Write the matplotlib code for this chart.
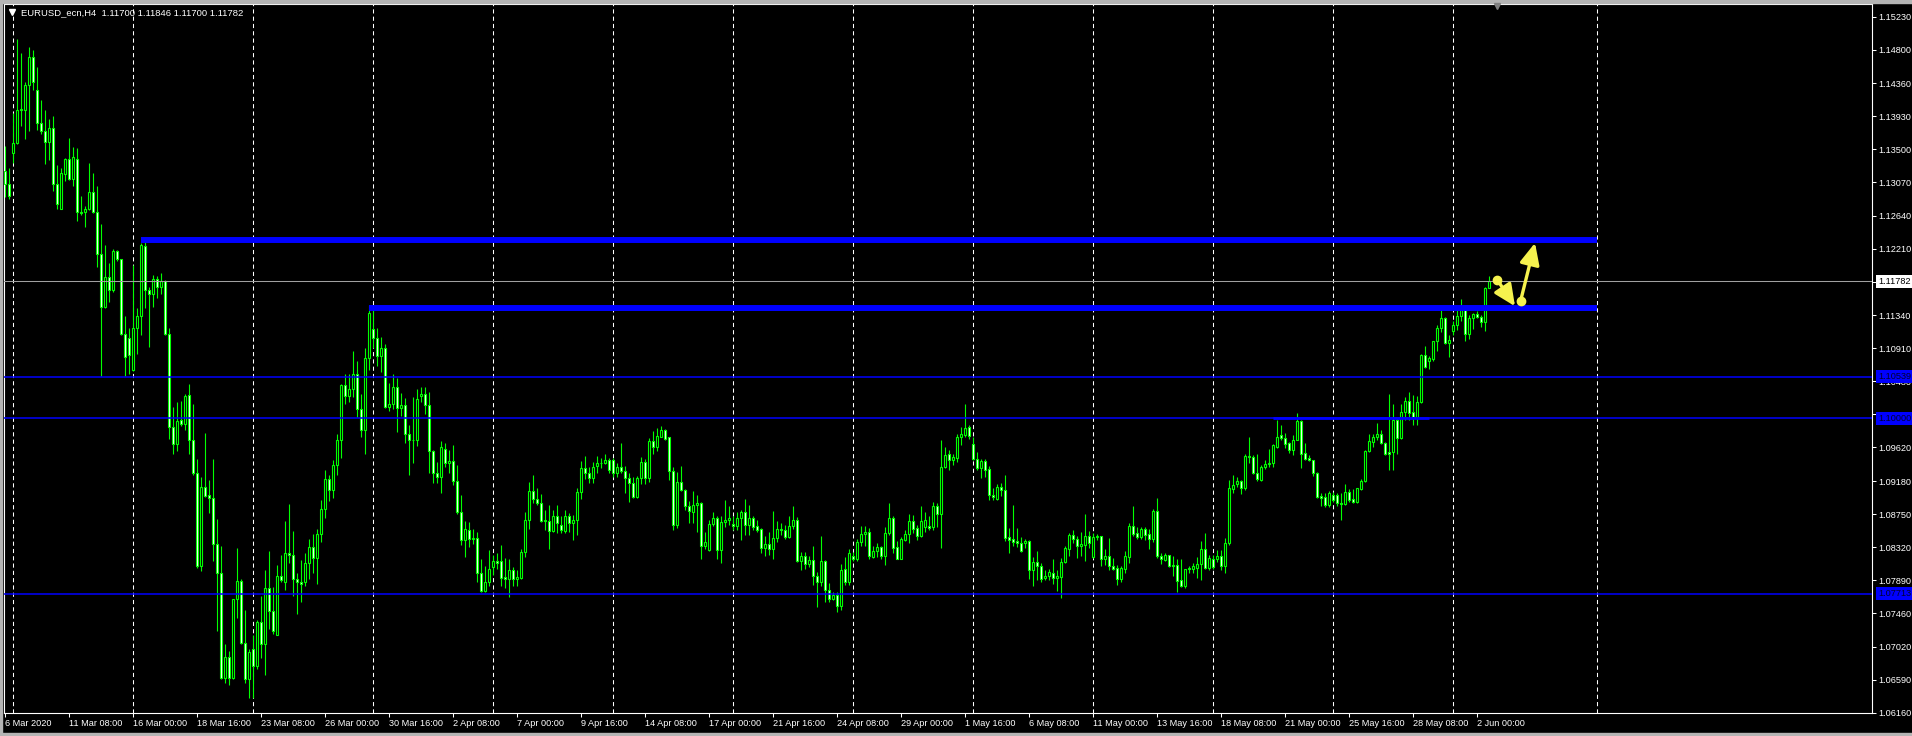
import numpy as np
import pandas as pd
import matplotlib
matplotlib.use('Agg')
import matplotlib.pyplot as plt
from matplotlib.patches import Rectangle, FancyArrowPatch
from matplotlib.lines import Line2D
from matplotlib.transforms import blended_transform_factory

plt.rcParams['font.family'] = ['Liberation Sans', 'DejaVu Sans']

# ---- data (prices in pips, 1 pip = 0.0001) ----
symbol = 'EURUSD_ecn,H4'
first_bar = '2020-03-06 16:00'

opens = [
    11322, 11305, 11346, 11358, 11401, 11402, 11434, 11470, 11428, 11384,
    11374, 11360, 11378, 11305, 11273, 11318, 11337, 11312, 11338, 11269,
    11268, 11272, 11295, 11268, 11214, 11145, 11184, 11167, 11218, 11207,
    11110, 11104, 11063, 11117, 11133, 11224, 11167, 11162, 11181, 11171,
    11179, 11110, 10988, 10966, 10997, 10992, 11030, 10971, 10929, 10808,
    10911, 10900, 10896, 10836, 10798, 10662, 10689, 10662, 10764, 10788,
    10707, 10660, 10700, 10677, 10735, 10706, 10779, 10749, 10718, 10795,
    10787, 10824, 10822, 10790, 10787, 10786, 10811, 10832, 10818, 10849,
    10882, 10921, 10906, 10939, 10972, 11043, 11029, 11038, 11058, 11012,
    10985, 11078, 11116, 11105, 11081, 11091, 11015, 11019, 11040, 11013,
    11017, 10979, 10972, 10971, 11029, 11031, 11017, 10957, 10929, 10924,
    10960, 10942, 10944, 10918, 10878, 10841, 10854, 10842, 10844, 10798,
    10775, 10787, 10806, 10814, 10814, 10793, 10791, 10802, 10791, 10792,
    10826, 10867, 10905, 10895, 10889, 10866, 10866, 10853, 10872, 10861,
    10853, 10872, 10864, 10868, 10904, 10935, 10929, 10922, 10938, 10941,
    10941, 10946, 10946, 10929, 10936, 10931, 10922, 10915, 10897, 10922,
    10943, 10922, 10970, 10963, 10976, 10985, 10975, 10931, 10861, 10917,
    10906, 10886, 10878, 10887, 10890, 10833, 10828, 10862, 10870, 10828,
    10865, 10867, 10862, 10860, 10870, 10878, 10861, 10870, 10859, 10856,
    10831, 10836, 10829, 10844, 10856, 10854, 10845, 10859, 10868, 10814,
    10821, 10810, 10815, 10795, 10787, 10814, 10776, 10765, 10770, 10755,
    10803, 10787, 10821, 10817, 10839, 10849, 10852, 10819, 10827, 10832,
    10820, 10851, 10870, 10832, 10817, 10841, 10849, 10866, 10857, 10847,
    10858, 10859, 10858, 10886, 10875, 10936, 10953, 10945, 10948, 10975,
    10978, 10988, 10966, 10947, 10935, 10944, 10934, 10900, 10895, 10911,
    10906, 10845, 10842, 10840, 10837, 10837, 10840, 10802, 10813, 10808,
    10792, 10794, 10798, 10792, 10793, 10813, 10830, 10848, 10842, 10834,
    10835, 10846, 10819, 10845, 10846, 10816, 10820, 10807, 10805, 10791,
    10804, 10819, 10860, 10850, 10845, 10856, 10849, 10842, 10879, 10821,
    10815, 10822, 10809, 10809, 10789, 10781, 10805, 10804, 10805, 10810,
    10829, 10805, 10817, 10816, 10820, 10808, 10837, 10908, 10914, 10918,
    10909, 10951, 10950, 10929, 10920, 10937, 10940, 10941, 10963, 10978,
    10974, 10968, 10959, 10971, 10996, 10955, 10948, 10946, 10928, 10898,
    10897, 10887, 10900, 10900, 10890, 10888, 10904, 10895, 10891, 10908,
    10918, 10957, 10969, 10975, 10979, 10968, 10956, 10956, 10997, 10974,
    11008, 11022, 11008, 11000, 11021, 11082, 11075, 11077, 11100, 11118,
    11130, 11098, 11113, 11121, 11133, 11141, 11110, 11130, 11136, 11132,
    11125, 11170.0,
]
highs = [
    11354, 11326, 11397, 11494, 11476, 11438, 11483, 11479, 11458, 11415,
    11401, 11390, 11394, 11330, 11326, 11339, 11365, 11353, 11352, 11289,
    11276, 11333, 11319, 11302, 11253, 11226, 11202, 11221, 11219, 11208,
    11133, 11117, 11200, 11143, 11228, 11236, 11171, 11187, 11185, 11189,
    11180, 11118, 11015, 11021, 11022, 11032, 11045, 11018, 10947, 10923,
    10981, 10920, 10947, 10869, 10834, 10706, 10697, 10765, 10831, 10790,
    10750, 10700, 10717, 10737, 10768, 10802, 10827, 10780, 10809, 10822,
    10866, 10888, 10853, 10798, 10815, 10824, 10843, 10849, 10856, 10894,
    10933, 10926, 10945, 10979, 11044, 11058, 11058, 11087, 11075, 11031,
    11091, 11147, 11143, 11118, 11106, 11096, 11046, 11057, 11052, 11033,
    11026, 10991, 11028, 11038, 11040, 11040, 11034, 10959, 10943, 10970,
    10968, 10959, 10965, 10939, 10900, 10866, 10865, 10856, 10852, 10817,
    10808, 10828, 10822, 10824, 10835, 10818, 10817, 10806, 10802, 10830,
    10878, 10917, 10926, 10909, 10901, 10880, 10887, 10880, 10887, 10872,
    10880, 10876, 10874, 10909, 10944, 10951, 10936, 10943, 10951, 10948,
    10953, 10948, 10948, 10941, 10968, 10938, 10928, 10924, 10925, 10949,
    10947, 10974, 10983, 10987, 10990, 10986, 10976, 10937, 10930, 10938,
    10908, 10892, 10905, 10900, 10891, 10852, 10867, 10878, 10873, 10872,
    10893, 10885, 10872, 10878, 10881, 10895, 10887, 10872, 10867, 10857,
    10847, 10852, 10879, 10866, 10863, 10861, 10873, 10885, 10871, 10826,
    10826, 10821, 10834, 10800, 10847, 10815, 10785, 10774, 10774, 10810,
    10819, 10830, 10826, 10843, 10859, 10860, 10857, 10834, 10837, 10834,
    10858, 10889, 10872, 10840, 10845, 10854, 10875, 10874, 10861, 10886,
    10878, 10872, 10891, 10889, 10972, 10963, 10958, 10953, 10980, 10989,
    11019, 10991, 10975, 10956, 10947, 10947, 10938, 10909, 10914, 10916,
    10926, 10857, 10887, 10857, 10845, 10843, 10841, 10819, 10827, 10812,
    10802, 10804, 10816, 10802, 10818, 10834, 10851, 10854, 10847, 10852,
    10875, 10853, 10851, 10849, 10847, 10829, 10844, 10818, 10809, 10808,
    10827, 10864, 10885, 10858, 10858, 10858, 10856, 10882, 10896, 10825,
    10825, 10822, 10820, 10817, 10816, 10804, 10808, 10811, 10819, 10840,
    10851, 10822, 10822, 10828, 10828, 10844, 10919, 10926, 10924, 10920,
    10953, 10976, 10952, 10953, 10939, 10946, 10960, 10966, 10998, 10991,
    10981, 10969, 10978, 11007, 10997, 10968, 10952, 10946, 10930, 10903,
    10903, 10905, 10904, 10903, 10903, 10914, 10908, 10908, 10909, 10921,
    10958, 10980, 10979, 10994, 10985, 10969, 11031, 11018, 11000, 11018,
    11027, 11034, 11030, 11029, 11083, 11094, 11081, 11101, 11121, 11146,
    11132, 11109, 11127, 11141, 11155, 11143, 11134, 11137, 11139, 11134,
    11171, 11184.6,
]
lows = [
    11288, 11286, 11333, 11357, 11380, 11364, 11374, 11427, 11375, 11370,
    11331, 11336, 11296, 11273, 11272, 11309, 11310, 11302, 11257, 11265,
    11249, 11271, 11267, 11197, 11055, 11143, 11151, 11164, 11205, 11109,
    11055, 11058, 11062, 11083, 11109, 11143, 11093, 11145, 11156, 11162,
    11109, 10973, 10954, 10957, 10990, 10985, 10954, 10926, 10805, 10801,
    10897, 10877, 10814, 10723, 10660, 10655, 10652, 10660, 10740, 10706,
    10655, 10636, 10635, 10673, 10688, 10665, 10725, 10719, 10717, 10787,
    10776, 10811, 10768, 10745, 10760, 10782, 10791, 10799, 10784, 10839,
    10870, 10892, 10896, 10926, 10948, 11018, 11021, 11028, 11001, 10975,
    10953, 11063, 11092, 11068, 11060, 11013, 11009, 11012, 10982, 11003,
    10968, 10926, 10942, 10964, 11021, 11006, 10929, 10915, 10915, 10902,
    10937, 10929, 10913, 10875, 10835, 10819, 10832, 10836, 10786, 10774,
    10773, 10782, 10796, 10804, 10781, 10779, 10767, 10781, 10782, 10790,
    10819, 10856, 10889, 10887, 10865, 10854, 10829, 10852, 10850, 10851,
    10851, 10852, 10841, 10848, 10895, 10921, 10915, 10915, 10928, 10935,
    10940, 10928, 10924, 10924, 10928, 10902, 10891, 10896, 10896, 10914,
    10914, 10917, 10954, 10957, 10975, 10972, 10919, 10855, 10857, 10905,
    10880, 10864, 10864, 10852, 10816, 10829, 10827, 10860, 10816, 10811,
    10858, 10861, 10854, 10854, 10841, 10848, 10848, 10854, 10852, 10825,
    10820, 10822, 10816, 10839, 10848, 10843, 10844, 10856, 10813, 10802,
    10804, 10806, 10783, 10754, 10782, 10761, 10761, 10763, 10747, 10750,
    10783, 10783, 10814, 10814, 10834, 10834, 10816, 10818, 10819, 10817,
    10809, 10848, 10824, 10816, 10816, 10840, 10838, 10851, 10841, 10845,
    10852, 10854, 10854, 10858, 10831, 10935, 10932, 10939, 10943, 10965,
    10976, 10973, 10946, 10933, 10922, 10924, 10893, 10894, 10893, 10898,
    10840, 10825, 10834, 10832, 10826, 10831, 10791, 10782, 10789, 10786,
    10789, 10789, 10784, 10775, 10766, 10811, 10821, 10837, 10818, 10820,
    10814, 10831, 10818, 10841, 10808, 10809, 10802, 10802, 10783, 10787,
    10799, 10811, 10847, 10843, 10842, 10841, 10830, 10839, 10818, 10810,
    10814, 10806, 10794, 10774, 10780, 10779, 10799, 10798, 10792, 10789,
    10803, 10802, 10804, 10813, 10802, 10799, 10835, 10902, 10911, 10901,
    10907, 10941, 10927, 10918, 10918, 10934, 10937, 10936, 10961, 10971,
    10961, 10955, 10952, 10971, 10935, 10946, 10944, 10925, 10896, 10885,
    10884, 10884, 10891, 10886, 10868, 10887, 10891, 10890, 10889, 10907,
    10917, 10956, 10963, 10971, 10966, 10952, 10932, 10932, 10954, 10973,
    10997, 10998, 10991, 10991, 11020, 11066, 11064, 11075, 11088, 11112,
    11097, 11080, 11108, 11115, 11127, 11100, 11103, 11116, 11130, 11119,
    11114, 11170.0,
]
closes = [
    11305, 11289, 11358, 11401, 11403, 11434, 11470, 11438, 11384, 11374,
    11360, 11378, 11305, 11279, 11319, 11337, 11312, 11340, 11268, 11267,
    11272, 11295, 11268, 11214, 11145, 11184, 11167, 11218, 11207, 11110,
    11080, 11082, 11117, 11133, 11226, 11167, 11162, 11181, 11171, 11179,
    11110, 10988, 10966, 10996, 10992, 11029, 10971, 10929, 10808, 10911,
    10899, 10896, 10836, 10798, 10662, 10689, 10662, 10764, 10788, 10707,
    10660, 10696, 10677, 10735, 10706, 10779, 10749, 10723, 10795, 10789,
    10824, 10822, 10790, 10786, 10784, 10811, 10832, 10818, 10849, 10882,
    10921, 10906, 10939, 10972, 11043, 11029, 11038, 11058, 11012, 10985,
    11078, 11137, 11105, 11081, 11091, 11015, 11019, 11040, 11013, 11017,
    10979, 10972, 10971, 11025, 11031, 11017, 10957, 10929, 10924, 10962,
    10942, 10944, 10918, 10878, 10841, 10856, 10842, 10844, 10798, 10775,
    10787, 10804, 10814, 10812, 10792, 10791, 10802, 10791, 10793, 10826,
    10867, 10905, 10895, 10889, 10866, 10867, 10853, 10872, 10863, 10855,
    10872, 10864, 10868, 10904, 10935, 10929, 10922, 10937, 10941, 10942,
    10946, 10932, 10929, 10936, 10931, 10922, 10915, 10897, 10922, 10943,
    10922, 10970, 10963, 10977, 10985, 10973, 10931, 10861, 10917, 10906,
    10885, 10879, 10887, 10890, 10833, 10839, 10862, 10870, 10828, 10865,
    10868, 10870, 10859, 10870, 10878, 10861, 10870, 10858, 10855, 10831,
    10836, 10829, 10844, 10856, 10854, 10845, 10859, 10868, 10814, 10821,
    10810, 10815, 10794, 10787, 10814, 10776, 10765, 10770, 10755, 10802,
    10787, 10824, 10817, 10839, 10849, 10852, 10821, 10827, 10832, 10820,
    10851, 10870, 10831, 10817, 10842, 10849, 10866, 10856, 10847, 10866,
    10868, 10857, 10886, 10875, 10937, 10952, 10945, 10949, 10976, 10980,
    10987, 10977, 10947, 10935, 10944, 10933, 10900, 10897, 10911, 10906,
    10844, 10841, 10839, 10837, 10827, 10840, 10802, 10813, 10808, 10791,
    10794, 10800, 10792, 10794, 10813, 10831, 10848, 10842, 10834, 10836,
    10846, 10838, 10845, 10846, 10816, 10820, 10807, 10804, 10791, 10805,
    10821, 10860, 10849, 10845, 10856, 10848, 10842, 10879, 10821, 10816,
    10822, 10808, 10808, 10788, 10781, 10804, 10803, 10807, 10810, 10829,
    10805, 10818, 10806, 10820, 10808, 10837, 10909, 10913, 10918, 10909,
    10951, 10949, 10928, 10921, 10937, 10940, 10942, 10965, 10976, 10974,
    10967, 10959, 10971, 10996, 10954, 10947, 10945, 10928, 10897, 10896,
    10887, 10902, 10893, 10889, 10888, 10904, 10893, 10891, 10909, 10918,
    10957, 10970, 10975, 10980, 10968, 10954, 10954, 10998, 10974, 11008,
    11022, 11007, 11001, 11021, 11082, 11067, 11078, 11100, 11118, 11130,
    11098, 11102, 11122, 11133, 11141, 11110, 11130, 11136, 11132, 11125,
    11170, 11178.2,
]

# horizontal lines drawn on the chart
thin_levels = [1.10539, 1.10000, 1.07713]
thick_levels = [1.12318, 1.11430]
thick_start_bars = [34, 91]
lines_end_bar = 398
support_segment = (317, 356, 1.10000)
bid_price = 1.11782

# yellow arrows: (bar, price) start -> end
arrow_starts = [(373.1, 1.11800), (378.9, 1.11528)]
arrow_ends = [(377.5, 1.11458), (382.5, 1.12283)]

price_ticks = [1.15230, 1.14800, 1.14360, 1.13930, 1.13500, 1.13070, 1.12640,
               1.12210, 1.11780, 1.11340, 1.10910, 1.10480, 1.10050, 1.09620,
               1.09180, 1.08750, 1.08320, 1.07890, 1.07460, 1.07020, 1.06590,
               1.06160]
future_grid_bars = [398]

# ---- derived ----
PIP = 1e-4
o = np.array(opens) * PIP
h = np.array(highs) * PIP
l = np.array(lows) * PIP
c = np.array(closes) * PIP
n = len(c)
idx = np.arange(n)

# H4 timestamps, weekdays only
times = []
t = pd.Timestamp(first_bar)
while len(times) < n:
    if t.weekday() < 5:
        times.append(t)
    t += pd.Timedelta(hours=4)

label_idx = list(range(0, n, 16))
labels = []
for i in label_idx:
    ti = times[i]
    if i == 0:
        labels.append(f'{ti.day} {ti:%b %Y}')
    else:
        labels.append(f'{ti.day} {ti:%b %H:%M}')
monday_idx = [i for i, ti in enumerate(times) if ti.weekday() == 0 and ti.hour == 0]

GREEN = '#00ff00'
BLUE = '#0000ff'
YELLOW = '#f6f24e'
FS = 6.6

W, H = 1912, 736
fig = plt.figure(figsize=(W / 100, H / 100), dpi=100, facecolor='black')
ax = fig.add_axes([4 / W, 1 - 713 / H, 1868 / W, 709 / H], facecolor='black')
ax.set_xlim(-0.25, 466.75)
ax.set_ylim(1.06160, 1.15395)

# grid (vertical only)
for i in monday_idx + future_grid_bars:
    ax.axvline(i, color='white', lw=0.75, ls=(0, (4, 3)), zorder=1)

# candles
up = c >= o
ax.vlines(idx, l, h, color=GREEN, lw=0.8, zorder=2)
ax.bar(idx, np.abs(c - o), bottom=np.minimum(o, c), width=0.5,
       color=np.where(up, 'black', 'white'), edgecolor=GREEN,
       linewidth=0.8, zorder=3)

# levels
for lv in thin_levels:
    ax.axhline(lv, color=BLUE, lw=1.1, zorder=4)
for lv, s in zip(thick_levels, thick_start_bars):
    ax.hlines(lv, s, lines_end_bar, color=BLUE, lw=4.3, zorder=4)
ax.hlines(support_segment[2], support_segment[0], support_segment[1],
          color=BLUE, lw=2.0, zorder=4)
ax.axhline(bid_price, color='#a0a0a0', lw=0.75, zorder=4)

# arrows
for (x0, y0), (x1, y1) in zip(arrow_starts, arrow_ends):
    ax.add_patch(FancyArrowPatch((x0, y0), (x1, y1),
                                 arrowstyle='-|>,head_length=13,head_width=6',
                                 mutation_scale=1, color=YELLOW, lw=2.4,
                                 shrinkA=0, shrinkB=0, zorder=6))
    ax.plot([x0], [y0], 'o', ms=6, color=YELLOW, zorder=6)

# axes styling
for sp in ax.spines.values():
    sp.set_color('white')
    sp.set_linewidth(0.8)
ax.yaxis.tick_right()
ax.set_yticks(price_ticks)
ax.set_yticklabels([f'{p:.5f}' for p in price_ticks])
ax.set_xticks(label_idx)
ax.set_xticklabels(labels)
for lb in ax.get_xticklabels():
    lb.set_ha('left')
ax.tick_params(axis='both', colors='white', labelcolor='white', length=3,
               width=0.75, pad=1.5, labelsize=FS)

# price labels on the right axis
tr = blended_transform_factory(ax.transAxes, ax.transData)
xl = 1 + 6 / 1868
ax.text(xl, bid_price, f'{bid_price:.5f}', transform=tr, fontsize=FS,
        color='black', va='center', ha='left', clip_on=False, zorder=10,
        bbox=dict(boxstyle='square,pad=0.2', fc='white', ec='none'))
for lv in thin_levels:
    ax.text(xl, lv, f'{lv:.5f}', transform=tr, fontsize=FS,
            color='#000030', va='center', ha='left', clip_on=False, zorder=10,
            bbox=dict(boxstyle='square,pad=0.2', fc=BLUE, ec='none'))

# header text
fig.add_artist(Line2D([12 / W], [1 - 12 / H], marker='v', ms=4, color='white',
                      transform=fig.transFigure))
fig.text(21 / W, 1 - 12.5 / H,
         f'{symbol}  {o[-1]:.5f} {h[-1]:.5f} {l[-1]:.5f} {c[-1]:.5f}',
         color='white', fontsize=FS + 0.2, va='center', ha='left')

# chart shift marker
fig.add_artist(Line2D([1497 / W], [1 - 6 / H], marker='v', ms=5,
                      color='#808080', transform=fig.transFigure))

# window frame
for rect in [(0, 1 - 3 / H, 1, 3 / H), (0, 0, 2 / W, 1), (0, 0, 1, 3 / H)]:
    fig.patches.append(Rectangle(rect[:2], rect[2], rect[3],
                                 transform=fig.transFigure, color='#b4b4b4'))

fig.savefig('out.png', dpi=100, facecolor='black')
